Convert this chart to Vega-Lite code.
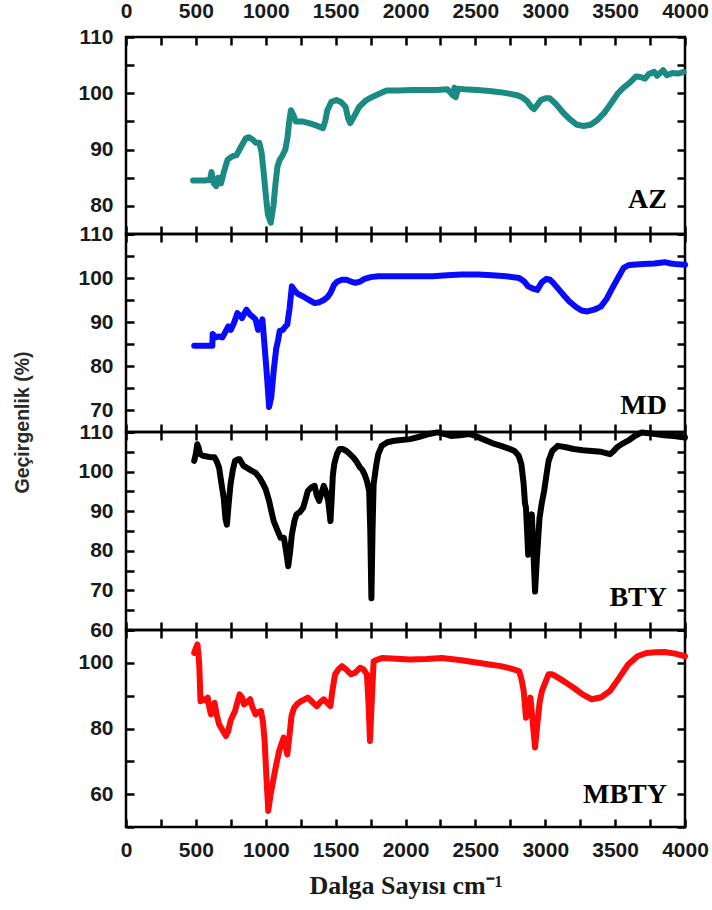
{
"$schema": "https://vega.github.io/schema/vega-lite/v6.json",
"autosize": {"type": "none"},
"padding": {"left": 126, "top": 37, "right": 586, "bottom": 873},
"background": "white",
"bounds": "flush",
"spacing": 0,
"config": {
  "view": {"stroke": "black", "strokeWidth": 2.5},
  "axis": {"labelFont": "Liberation Sans", "labelFontWeight": "bold", "labelFontSize": 21, "labelColor": "#1a1a1a", "tickColor": "black", "tickWidth": 2.5, "tickSize": -8, "grid": false, "domain": false, "labelFlush": false, "labelOverlap": false, "title": null}
},
"datasets": {
  "ftir": [
{"s":"AZ","x":480,"y":84.5},{"s":"AZ","x":520,"y":84.5},{"s":"AZ","x":560,"y":84.5},{"s":"AZ","x":600,"y":84.6},{"s":"AZ","x":612,"y":86},{"s":"AZ","x":628,"y":84},{"s":"AZ","x":645,"y":83.5},{"s":"AZ","x":660,"y":85},{"s":"AZ","x":680,"y":84},{"s":"AZ","x":700,"y":86},{"s":"AZ","x":727,"y":88.2},{"s":"AZ","x":760,"y":88.8},{"s":"AZ","x":790,"y":89},{"s":"AZ","x":825,"y":90.6},{"s":"AZ","x":857,"y":92},{"s":"AZ","x":880,"y":92.2},{"s":"AZ","x":905,"y":91.8},{"s":"AZ","x":930,"y":91.2},{"s":"AZ","x":954,"y":91.2},{"s":"AZ","x":970,"y":89.5},{"s":"AZ","x":985,"y":86},{"s":"AZ","x":1000,"y":82},{"s":"AZ","x":1015,"y":78.5},{"s":"AZ","x":1036,"y":77},{"s":"AZ","x":1055,"y":80},{"s":"AZ","x":1070,"y":84},{"s":"AZ","x":1084,"y":87},{"s":"AZ","x":1100,"y":88.2},{"s":"AZ","x":1117,"y":88.8},{"s":"AZ","x":1140,"y":90},{"s":"AZ","x":1155,"y":92},{"s":"AZ","x":1168,"y":95},{"s":"AZ","x":1180,"y":97},{"s":"AZ","x":1200,"y":96},{"s":"AZ","x":1214,"y":95},{"s":"AZ","x":1260,"y":95},{"s":"AZ","x":1310,"y":94.7},{"s":"AZ","x":1360,"y":94.3},{"s":"AZ","x":1409,"y":93.8},{"s":"AZ","x":1425,"y":95},{"s":"AZ","x":1441,"y":97},{"s":"AZ","x":1470,"y":98.5},{"s":"AZ","x":1506,"y":98.8},{"s":"AZ","x":1540,"y":98.4},{"s":"AZ","x":1571,"y":97.6},{"s":"AZ","x":1590,"y":95.5},{"s":"AZ","x":1604,"y":94.7},{"s":"AZ","x":1630,"y":95.8},{"s":"AZ","x":1669,"y":97.6},{"s":"AZ","x":1720,"y":98.8},{"s":"AZ","x":1766,"y":99.4},{"s":"AZ","x":1820,"y":100},{"s":"AZ","x":1864,"y":100.5},{"s":"AZ","x":1950,"y":100.5},{"s":"AZ","x":2050,"y":100.6},{"s":"AZ","x":2150,"y":100.6},{"s":"AZ","x":2221,"y":100.6},{"s":"AZ","x":2300,"y":100.7},{"s":"AZ","x":2340,"y":99.6},{"s":"AZ","x":2350,"y":101},{"s":"AZ","x":2360,"y":99.3},{"s":"AZ","x":2375,"y":100.8},{"s":"AZ","x":2420,"y":100.7},{"s":"AZ","x":2513,"y":100.6},{"s":"AZ","x":2600,"y":100.4},{"s":"AZ","x":2675,"y":100.2},{"s":"AZ","x":2750,"y":99.9},{"s":"AZ","x":2805,"y":99.6},{"s":"AZ","x":2840,"y":99.2},{"s":"AZ","x":2870,"y":98.6},{"s":"AZ","x":2900,"y":97.6},{"s":"AZ","x":2920,"y":97.2},{"s":"AZ","x":2945,"y":98},{"s":"AZ","x":2968,"y":98.8},{"s":"AZ","x":3000,"y":99.1},{"s":"AZ","x":3033,"y":99.1},{"s":"AZ","x":3080,"y":98},{"s":"AZ","x":3130,"y":96.5},{"s":"AZ","x":3180,"y":95.3},{"s":"AZ","x":3227,"y":94.4},{"s":"AZ","x":3275,"y":94.2},{"s":"AZ","x":3325,"y":94.4},{"s":"AZ","x":3370,"y":95.2},{"s":"AZ","x":3422,"y":96.5},{"s":"AZ","x":3470,"y":98.2},{"s":"AZ","x":3520,"y":100},{"s":"AZ","x":3560,"y":101},{"s":"AZ","x":3601,"y":101.8},{"s":"AZ","x":3650,"y":103},{"s":"AZ","x":3680,"y":102.9},{"s":"AZ","x":3714,"y":102.6},{"s":"AZ","x":3740,"y":103.4},{"s":"AZ","x":3780,"y":103.8},{"s":"AZ","x":3800,"y":103.1},{"s":"AZ","x":3844,"y":104.1},{"s":"AZ","x":3870,"y":103.2},{"s":"AZ","x":3910,"y":103.6},{"s":"AZ","x":3950,"y":103.5},{"s":"AZ","x":3990,"y":103.8},
{"s":"MD","x":488,"y":84.6},{"s":"MD","x":540,"y":84.6},{"s":"MD","x":600,"y":84.6},{"s":"MD","x":618,"y":84.6},{"s":"MD","x":620,"y":87.3},{"s":"MD","x":640,"y":86.5},{"s":"MD","x":665,"y":86.7},{"s":"MD","x":690,"y":86.5},{"s":"MD","x":715,"y":88},{"s":"MD","x":732,"y":89},{"s":"MD","x":750,"y":88.2},{"s":"MD","x":775,"y":90},{"s":"MD","x":797,"y":92},{"s":"MD","x":815,"y":91.5},{"s":"MD","x":830,"y":90.9},{"s":"MD","x":862,"y":92.8},{"s":"MD","x":890,"y":91.6},{"s":"MD","x":910,"y":91.1},{"s":"MD","x":927,"y":90.6},{"s":"MD","x":945,"y":88.2},{"s":"MD","x":960,"y":89},{"s":"MD","x":976,"y":90.6},{"s":"MD","x":992,"y":84.4},{"s":"MD","x":1008,"y":78},{"s":"MD","x":1024,"y":70.7},{"s":"MD","x":1040,"y":73},{"s":"MD","x":1057,"y":79},{"s":"MD","x":1075,"y":84},{"s":"MD","x":1089,"y":86},{"s":"MD","x":1100,"y":88},{"s":"MD","x":1122,"y":88.2},{"s":"MD","x":1140,"y":89},{"s":"MD","x":1154,"y":89.4},{"s":"MD","x":1170,"y":93},{"s":"MD","x":1187,"y":98.1},{"s":"MD","x":1210,"y":97},{"s":"MD","x":1230,"y":96.4},{"s":"MD","x":1268,"y":95.8},{"s":"MD","x":1310,"y":95},{"s":"MD","x":1350,"y":94.3},{"s":"MD","x":1385,"y":94.5},{"s":"MD","x":1415,"y":95},{"s":"MD","x":1440,"y":95.6},{"s":"MD","x":1463,"y":96.6},{"s":"MD","x":1490,"y":98.5},{"s":"MD","x":1512,"y":99.2},{"s":"MD","x":1545,"y":99.6},{"s":"MD","x":1577,"y":99.6},{"s":"MD","x":1610,"y":99.2},{"s":"MD","x":1642,"y":98.9},{"s":"MD","x":1675,"y":99.2},{"s":"MD","x":1707,"y":99.8},{"s":"MD","x":1750,"y":100.2},{"s":"MD","x":1805,"y":100.4},{"s":"MD","x":1900,"y":100.4},{"s":"MD","x":2000,"y":100.4},{"s":"MD","x":2100,"y":100.4},{"s":"MD","x":2195,"y":100.4},{"s":"MD","x":2300,"y":100.6},{"s":"MD","x":2400,"y":100.8},{"s":"MD","x":2520,"y":100.8},{"s":"MD","x":2620,"y":100.6},{"s":"MD","x":2720,"y":100.4},{"s":"MD","x":2813,"y":100},{"s":"MD","x":2850,"y":99.2},{"s":"MD","x":2878,"y":98.1},{"s":"MD","x":2910,"y":97.6},{"s":"MD","x":2943,"y":97.3},{"s":"MD","x":2975,"y":99},{"s":"MD","x":3008,"y":99.8},{"s":"MD","x":3035,"y":99.6},{"s":"MD","x":3057,"y":98.9},{"s":"MD","x":3100,"y":97.3},{"s":"MD","x":3140,"y":95.8},{"s":"MD","x":3171,"y":94.7},{"s":"MD","x":3220,"y":93.4},{"s":"MD","x":3260,"y":92.6},{"s":"MD","x":3301,"y":92.4},{"s":"MD","x":3350,"y":92.8},{"s":"MD","x":3398,"y":93.5},{"s":"MD","x":3440,"y":95.3},{"s":"MD","x":3480,"y":97.7},{"s":"MD","x":3520,"y":100},{"s":"MD","x":3561,"y":102.3},{"s":"MD","x":3594,"y":102.9},{"s":"MD","x":3626,"y":103},{"s":"MD","x":3700,"y":103.2},{"s":"MD","x":3780,"y":103.3},{"s":"MD","x":3854,"y":103.6},{"s":"MD","x":3900,"y":103.3},{"s":"MD","x":3950,"y":103.1},{"s":"MD","x":4000,"y":103},
{"s":"BTY","x":488,"y":102.7},{"s":"BTY","x":500,"y":104.5},{"s":"BTY","x":510,"y":106.9},{"s":"BTY","x":520,"y":106},{"s":"BTY","x":530,"y":104.4},{"s":"BTY","x":550,"y":104},{"s":"BTY","x":580,"y":103.8},{"s":"BTY","x":610,"y":103.6},{"s":"BTY","x":634,"y":103.6},{"s":"BTY","x":650,"y":102.5},{"s":"BTY","x":666,"y":101},{"s":"BTY","x":683,"y":97},{"s":"BTY","x":699,"y":93.4},{"s":"BTY","x":712,"y":88},{"s":"BTY","x":722,"y":86.6},{"s":"BTY","x":735,"y":92},{"s":"BTY","x":748,"y":96.8},{"s":"BTY","x":765,"y":100.5},{"s":"BTY","x":780,"y":102.7},{"s":"BTY","x":800,"y":103.1},{"s":"BTY","x":813,"y":103.1},{"s":"BTY","x":840,"y":101.5},{"s":"BTY","x":862,"y":101},{"s":"BTY","x":895,"y":100.3},{"s":"BTY","x":927,"y":99.7},{"s":"BTY","x":955,"y":98.5},{"s":"BTY","x":976,"y":97.2},{"s":"BTY","x":1000,"y":95.5},{"s":"BTY","x":1024,"y":92.6},{"s":"BTY","x":1040,"y":90},{"s":"BTY","x":1057,"y":87.5},{"s":"BTY","x":1080,"y":85.5},{"s":"BTY","x":1106,"y":83.3},{"s":"BTY","x":1130,"y":83.3},{"s":"BTY","x":1145,"y":80},{"s":"BTY","x":1161,"y":76.1},{"s":"BTY","x":1175,"y":80},{"s":"BTY","x":1187,"y":84.1},{"s":"BTY","x":1205,"y":87.5},{"s":"BTY","x":1220,"y":89.2},{"s":"BTY","x":1245,"y":89.8},{"s":"BTY","x":1268,"y":90.9},{"s":"BTY","x":1285,"y":93},{"s":"BTY","x":1301,"y":95.1},{"s":"BTY","x":1325,"y":96},{"s":"BTY","x":1350,"y":96.4},{"s":"BTY","x":1365,"y":94},{"s":"BTY","x":1382,"y":92.6},{"s":"BTY","x":1398,"y":94.5},{"s":"BTY","x":1415,"y":96.4},{"s":"BTY","x":1430,"y":95},{"s":"BTY","x":1447,"y":92.6},{"s":"BTY","x":1463,"y":87.5},{"s":"BTY","x":1470,"y":92},{"s":"BTY","x":1480,"y":99},{"s":"BTY","x":1490,"y":101.9},{"s":"BTY","x":1510,"y":104.5},{"s":"BTY","x":1528,"y":105.7},{"s":"BTY","x":1550,"y":105.7},{"s":"BTY","x":1577,"y":105.2},{"s":"BTY","x":1600,"y":104.5},{"s":"BTY","x":1626,"y":103.6},{"s":"BTY","x":1650,"y":102.5},{"s":"BTY","x":1675,"y":101},{"s":"BTY","x":1690,"y":100.5},{"s":"BTY","x":1707,"y":99.3},{"s":"BTY","x":1725,"y":97.5},{"s":"BTY","x":1740,"y":95.1},{"s":"BTY","x":1748,"y":85},{"s":"BTY","x":1756,"y":68},{"s":"BTY","x":1764,"y":85},{"s":"BTY","x":1772,"y":96.8},{"s":"BTY","x":1790,"y":101.5},{"s":"BTY","x":1805,"y":104.4},{"s":"BTY","x":1830,"y":106.5},{"s":"BTY","x":1870,"y":107.4},{"s":"BTY","x":1920,"y":107.8},{"s":"BTY","x":1970,"y":108},{"s":"BTY","x":2033,"y":108.2},{"s":"BTY","x":2100,"y":108.8},{"s":"BTY","x":2170,"y":109.5},{"s":"BTY","x":2228,"y":109.9},{"s":"BTY","x":2280,"y":109.5},{"s":"BTY","x":2325,"y":109},{"s":"BTY","x":2390,"y":109.2},{"s":"BTY","x":2455,"y":109.5},{"s":"BTY","x":2500,"y":109},{"s":"BTY","x":2553,"y":108.2},{"s":"BTY","x":2620,"y":107.2},{"s":"BTY","x":2683,"y":106.5},{"s":"BTY","x":2740,"y":105.8},{"s":"BTY","x":2780,"y":105.2},{"s":"BTY","x":2810,"y":104},{"s":"BTY","x":2829,"y":101.9},{"s":"BTY","x":2845,"y":97},{"s":"BTY","x":2855,"y":92},{"s":"BTY","x":2862,"y":90.9},{"s":"BTY","x":2870,"y":85},{"s":"BTY","x":2878,"y":79},{"s":"BTY","x":2890,"y":84},{"s":"BTY","x":2904,"y":89.2},{"s":"BTY","x":2915,"y":80},{"s":"BTY","x":2927,"y":69.7},{"s":"BTY","x":2940,"y":78},{"s":"BTY","x":2959,"y":88.3},{"s":"BTY","x":2975,"y":92},{"s":"BTY","x":2992,"y":95.1},{"s":"BTY","x":3008,"y":99},{"s":"BTY","x":3024,"y":102.7},{"s":"BTY","x":3050,"y":105.2},{"s":"BTY","x":3089,"y":106.5},{"s":"BTY","x":3140,"y":106.2},{"s":"BTY","x":3203,"y":105.7},{"s":"BTY","x":3270,"y":105.4},{"s":"BTY","x":3333,"y":105.2},{"s":"BTY","x":3400,"y":105},{"s":"BTY","x":3463,"y":104.4},{"s":"BTY","x":3490,"y":105.2},{"s":"BTY","x":3512,"y":106.1},{"s":"BTY","x":3550,"y":107},{"s":"BTY","x":3593,"y":107.8},{"s":"BTY","x":3640,"y":109},{"s":"BTY","x":3691,"y":109.9},{"s":"BTY","x":3740,"y":109.7},{"s":"BTY","x":3789,"y":109.5},{"s":"BTY","x":3850,"y":109.2},{"s":"BTY","x":3920,"y":109},{"s":"BTY","x":4000,"y":108.6},
{"s":"MBTY","x":488,"y":103},{"s":"MBTY","x":500,"y":104.5},{"s":"MBTY","x":511,"y":105.6},{"s":"MBTY","x":520,"y":102},{"s":"MBTY","x":525,"y":98.5},{"s":"MBTY","x":533,"y":88.3},{"s":"MBTY","x":550,"y":89},{"s":"MBTY","x":568,"y":88.5},{"s":"MBTY","x":585,"y":89.4},{"s":"MBTY","x":598,"y":86},{"s":"MBTY","x":608,"y":84.3},{"s":"MBTY","x":620,"y":86},{"s":"MBTY","x":634,"y":87.8},{"s":"MBTY","x":650,"y":84},{"s":"MBTY","x":666,"y":81.3},{"s":"MBTY","x":690,"y":79.5},{"s":"MBTY","x":715,"y":77.7},{"s":"MBTY","x":730,"y":79},{"s":"MBTY","x":748,"y":82.3},{"s":"MBTY","x":765,"y":84},{"s":"MBTY","x":780,"y":85.3},{"s":"MBTY","x":797,"y":88},{"s":"MBTY","x":813,"y":90.4},{"s":"MBTY","x":830,"y":89.5},{"s":"MBTY","x":845,"y":87.3},{"s":"MBTY","x":865,"y":88},{"s":"MBTY","x":888,"y":88.9},{"s":"MBTY","x":905,"y":86.5},{"s":"MBTY","x":927,"y":84.3},{"s":"MBTY","x":945,"y":85},{"s":"MBTY","x":966,"y":85.3},{"s":"MBTY","x":980,"y":82},{"s":"MBTY","x":992,"y":76.2},{"s":"MBTY","x":1005,"y":65},{"s":"MBTY","x":1018,"y":54.9},{"s":"MBTY","x":1035,"y":60},{"s":"MBTY","x":1057,"y":65},{"s":"MBTY","x":1075,"y":69},{"s":"MBTY","x":1096,"y":73.2},{"s":"MBTY","x":1110,"y":75},{"s":"MBTY","x":1128,"y":77.2},{"s":"MBTY","x":1140,"y":75},{"s":"MBTY","x":1154,"y":72.1},{"s":"MBTY","x":1170,"y":78},{"s":"MBTY","x":1185,"y":84},{"s":"MBTY","x":1203,"y":86.3},{"s":"MBTY","x":1225,"y":87.5},{"s":"MBTY","x":1252,"y":88.3},{"s":"MBTY","x":1275,"y":88.8},{"s":"MBTY","x":1301,"y":89.4},{"s":"MBTY","x":1335,"y":88},{"s":"MBTY","x":1366,"y":86.8},{"s":"MBTY","x":1390,"y":88},{"s":"MBTY","x":1415,"y":88.9},{"s":"MBTY","x":1440,"y":87.8},{"s":"MBTY","x":1463,"y":86.8},{"s":"MBTY","x":1475,"y":91},{"s":"MBTY","x":1496,"y":96.5},{"s":"MBTY","x":1520,"y":98},{"s":"MBTY","x":1545,"y":99},{"s":"MBTY","x":1575,"y":98},{"s":"MBTY","x":1610,"y":96.5},{"s":"MBTY","x":1640,"y":97},{"s":"MBTY","x":1675,"y":98.5},{"s":"MBTY","x":1700,"y":98},{"s":"MBTY","x":1724,"y":96.5},{"s":"MBTY","x":1735,"y":88},{"s":"MBTY","x":1746,"y":76.2},{"s":"MBTY","x":1758,"y":88},{"s":"MBTY","x":1772,"y":100.5},{"s":"MBTY","x":1800,"y":101},{"s":"MBTY","x":1837,"y":101.5},{"s":"MBTY","x":1900,"y":101.3},{"s":"MBTY","x":2033,"y":101},{"s":"MBTY","x":2150,"y":101.2},{"s":"MBTY","x":2260,"y":101.5},{"s":"MBTY","x":2400,"y":100.8},{"s":"MBTY","x":2520,"y":100},{"s":"MBTY","x":2600,"y":99.5},{"s":"MBTY","x":2683,"y":99},{"s":"MBTY","x":2750,"y":98.3},{"s":"MBTY","x":2813,"y":97.5},{"s":"MBTY","x":2830,"y":95},{"s":"MBTY","x":2846,"y":91.4},{"s":"MBTY","x":2862,"y":83.3},{"s":"MBTY","x":2878,"y":86},{"s":"MBTY","x":2894,"y":89.4},{"s":"MBTY","x":2910,"y":82},{"s":"MBTY","x":2927,"y":74.2},{"s":"MBTY","x":2945,"y":82},{"s":"MBTY","x":2960,"y":88},{"s":"MBTY","x":2976,"y":91.4},{"s":"MBTY","x":3000,"y":94},{"s":"MBTY","x":3024,"y":96.5},{"s":"MBTY","x":3050,"y":96.5},{"s":"MBTY","x":3073,"y":96},{"s":"MBTY","x":3140,"y":94.2},{"s":"MBTY","x":3203,"y":92.4},{"s":"MBTY","x":3270,"y":90.3},{"s":"MBTY","x":3333,"y":88.9},{"s":"MBTY","x":3400,"y":89.5},{"s":"MBTY","x":3463,"y":91.4},{"s":"MBTY","x":3530,"y":95.5},{"s":"MBTY","x":3593,"y":99.5},{"s":"MBTY","x":3660,"y":102},{"s":"MBTY","x":3724,"y":103},{"s":"MBTY","x":3790,"y":103.2},{"s":"MBTY","x":3854,"y":103.3},{"s":"MBTY","x":3930,"y":102.8},{"s":"MBTY","x":4000,"y":102}
  ],
  "labels": [
    {"s":"AZ","x":3871,"y":81.1,"name":"AZ"},
    {"s":"MD","x":3871,"y":70.9,"name":"MD"},
    {"s":"BTY","x":3871,"y":68.1,"name":"BTY"},
    {"s":"MBTY","x":3871,"y":59.7,"name":"MBTY"}
  ]
},
"vconcat": [
  {
    "width": 559, "height": 197,
    "layer": [
      {"data": {"name": "ftir"}, "transform": [{"filter": "datum.s === 'AZ'"}],
       "mark": {"type": "line", "color": "#1b8a82", "strokeWidth": 6, "strokeJoin": "round", "strokeCap": "round"},
       "encoding": {
         "x": {"field": "x", "type": "quantitative", "scale": {"domain": [0, 4000], "nice": false, "zero": false},
               "axis": {"orient": "top", "values": [0,250,500,750,1000,1250,1500,1750,2000,2250,2500,2750,3000,3250,3500,3750,4000], "format": "d", "labelExpr": "datum.value % 500 === 0 ? datum.label : ''", "labelPadding": 24}},
         "y": {"field": "y", "type": "quantitative", "scale": {"domain": [75, 110], "nice": false, "zero": false},
               "axis": {"orient": "left", "values": [75,80,85,90,95,100,105,110], "labelExpr": "datum.value % 10 === 0 ? datum.label : ''", "labelPadding": 21}}
       }},
      {"data": {"name": "labels"}, "transform": [{"filter": "datum.s === 'AZ'"}],
       "mark": {"type": "text", "font": "Liberation Serif", "fontWeight": "bold", "fontSize": 28, "align": "right", "baseline": "middle", "color": "black"},
       "encoding": {
         "x": {"field": "x", "type": "quantitative", "scale": {"domain": [0, 4000], "nice": false, "zero": false},
               "axis": {"orient": "bottom", "labels": false, "values": [0,250,500,750,1000,1250,1500,1750,2000,2250,2500,2750,3000,3250,3500,3750,4000]}},
         "y": {"field": "y", "type": "quantitative", "scale": {"domain": [75, 110], "nice": false, "zero": false},
               "axis": {"orient": "right", "labels": false, "values": [75,80,85,90,95,100,105,110]}},
         "text": {"field": "name"}
       }}
    ],
    "resolve": {"axis": {"x": "independent", "y": "independent"}}
  },
  {
    "width": 559, "height": 198,
    "layer": [
      {"data": {"name": "ftir"}, "transform": [{"filter": "datum.s === 'MD'"}],
       "mark": {"type": "line", "color": "#0a0aff", "strokeWidth": 6, "strokeJoin": "round", "strokeCap": "round"},
       "encoding": {
         "x": {"field": "x", "type": "quantitative", "scale": {"domain": [0, 4000], "nice": false, "zero": false},
               "axis": {"orient": "top", "labels": false, "values": [0,250,500,750,1000,1250,1500,1750,2000,2250,2500,2750,3000,3250,3500,3750,4000]}},
         "y": {"field": "y", "type": "quantitative", "scale": {"domain": [65, 110], "nice": false, "zero": false},
               "axis": {"orient": "left", "values": [65,70,75,80,85,90,95,100,105,110], "labelExpr": "datum.value % 10 === 0 ? datum.label : ''", "labelPadding": 21,
                        "title": "Geçirgenlik (%)", "titleX": -104, "titleY": 188, "titleAngle": -90, "titleAlign": "center", "titleBaseline": "middle", "titleFont": "Liberation Sans", "titleFontWeight": "bold", "titleFontSize": 19.5, "titleColor": "#2a2a2a"}}
       }},
      {"data": {"name": "labels"}, "transform": [{"filter": "datum.s === 'MD'"}],
       "mark": {"type": "text", "font": "Liberation Serif", "fontWeight": "bold", "fontSize": 28, "align": "right", "baseline": "middle", "color": "black"},
       "encoding": {
         "x": {"field": "x", "type": "quantitative", "scale": {"domain": [0, 4000], "nice": false, "zero": false},
               "axis": {"orient": "bottom", "labels": false, "values": [0,250,500,750,1000,1250,1500,1750,2000,2250,2500,2750,3000,3250,3500,3750,4000]}},
         "y": {"field": "y", "type": "quantitative", "scale": {"domain": [65, 110], "nice": false, "zero": false},
               "axis": {"orient": "right", "labels": false, "values": [65,70,75,80,85,90,95,100,105,110]}},
         "text": {"field": "name"}
       }}
    ],
    "resolve": {"axis": {"x": "independent", "y": "independent"}}
  },
  {
    "width": 559, "height": 198,
    "layer": [
      {"data": {"name": "ftir"}, "transform": [{"filter": "datum.s === 'BTY'"}],
       "mark": {"type": "line", "color": "#000000", "strokeWidth": 6, "strokeJoin": "round", "strokeCap": "round"},
       "encoding": {
         "x": {"field": "x", "type": "quantitative", "scale": {"domain": [0, 4000], "nice": false, "zero": false},
               "axis": {"orient": "top", "labels": false, "values": [0,250,500,750,1000,1250,1500,1750,2000,2250,2500,2750,3000,3250,3500,3750,4000]}},
         "y": {"field": "y", "type": "quantitative", "scale": {"domain": [60, 110], "nice": false, "zero": false},
               "axis": {"orient": "left", "values": [60,65,70,75,80,85,90,95,100,105,110], "labelExpr": "datum.value % 10 === 0 ? datum.label : ''", "labelPadding": 21}}
       }},
      {"data": {"name": "labels"}, "transform": [{"filter": "datum.s === 'BTY'"}],
       "mark": {"type": "text", "font": "Liberation Serif", "fontWeight": "bold", "fontSize": 28, "align": "right", "baseline": "middle", "color": "black"},
       "encoding": {
         "x": {"field": "x", "type": "quantitative", "scale": {"domain": [0, 4000], "nice": false, "zero": false},
               "axis": {"orient": "bottom", "labels": false, "values": [0,250,500,750,1000,1250,1500,1750,2000,2250,2500,2750,3000,3250,3500,3750,4000]}},
         "y": {"field": "y", "type": "quantitative", "scale": {"domain": [60, 110], "nice": false, "zero": false},
               "axis": {"orient": "right", "labels": false, "values": [60,65,70,75,80,85,90,95,100,105,110]}},
         "text": {"field": "name"}
       }}
    ],
    "resolve": {"axis": {"x": "independent", "y": "independent"}}
  },
  {
    "width": 559, "height": 197,
    "layer": [
      {"data": {"name": "ftir"}, "transform": [{"filter": "datum.s === 'MBTY'"}],
       "mark": {"type": "line", "color": "#ff0a0a", "strokeWidth": 6, "strokeJoin": "round", "strokeCap": "round"},
       "encoding": {
         "x": {"field": "x", "type": "quantitative", "scale": {"domain": [0, 4000], "nice": false, "zero": false},
               "axis": {"orient": "top", "labels": false, "values": [0,250,500,750,1000,1250,1500,1750,2000,2250,2500,2750,3000,3250,3500,3750,4000]}},
         "y": {"field": "y", "type": "quantitative", "scale": {"domain": [50, 110], "nice": false, "zero": false},
               "axis": {"orient": "left", "values": [50,60,70,80,90,100,110], "labelExpr": "(datum.value - 60) % 20 === 0 ? datum.label : ''", "labelPadding": 21}}
       }},
      {"data": {"name": "labels"}, "transform": [{"filter": "datum.s === 'MBTY'"}],
       "mark": {"type": "text", "font": "Liberation Serif", "fontWeight": "bold", "fontSize": 28, "align": "right", "baseline": "middle", "color": "black"},
       "encoding": {
         "x": {"field": "x", "type": "quantitative", "scale": {"domain": [0, 4000], "nice": false, "zero": false},
               "axis": {"orient": "bottom", "values": [0,250,500,750,1000,1250,1500,1750,2000,2250,2500,2750,3000,3250,3500,3750,4000], "format": "d", "labelExpr": "datum.value % 500 === 0 ? datum.label : ''", "labelPadding": 20,
                        "title": "Dalga Sayısı cm⁻¹", "titleX": 279.5, "titleY": 58, "titleAlign": "center", "titleBaseline": "middle", "titleFont": "Liberation Serif", "titleFontWeight": "bold", "titleFontSize": 26, "titleColor": "#1a1a1a"}},
         "y": {"field": "y", "type": "quantitative", "scale": {"domain": [50, 110], "nice": false, "zero": false},
               "axis": {"orient": "right", "labels": false, "values": [50,60,70,80,90,100,110]}},
         "text": {"field": "name"}
       }}
    ],
    "resolve": {"axis": {"x": "independent", "y": "independent"}}
  }
]
}
